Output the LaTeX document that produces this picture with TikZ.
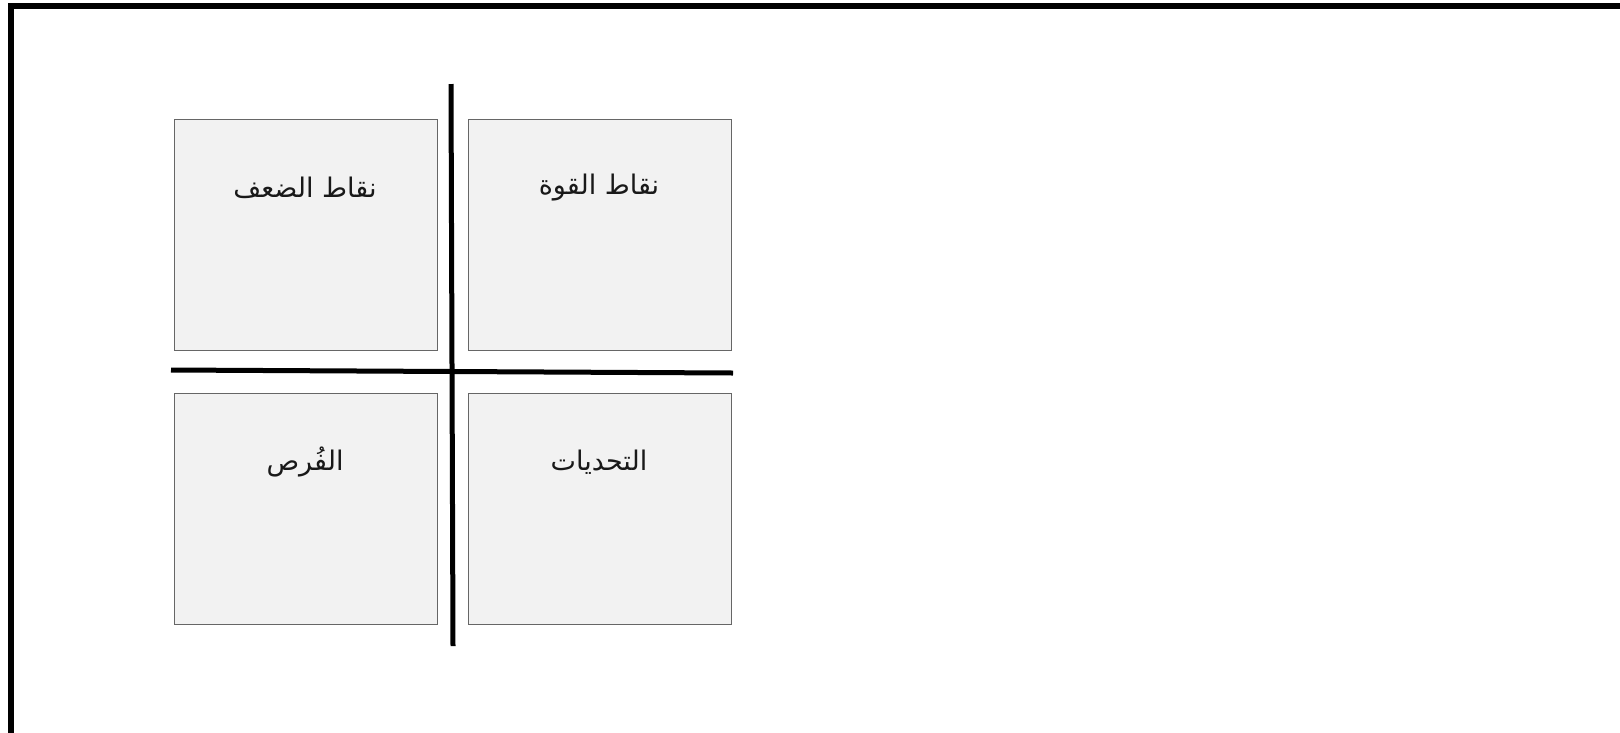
\documentclass[tikz,border=0pt]{standalone}
\usepackage{fontspec}
\TeXXeTstate=1
\newfontfamily\arabicfont[Script=Arabic]{DejaVu Sans}
\begin{document}
\begin{tikzpicture}[x=1pt,y=-1pt,
  quad/.style={draw=black!60,line width=1.3pt,fill=black!5,minimum width=263pt,minimum height=231pt,inner sep=0pt,anchor=north west},
  qlabel/.style={font=\arabicfont\fontsize{27}{32}\selectfont,text=black!90},
  axis/.style={line width=5pt,black}]
\useasboundingbox (0,0) rectangle (1620,732);
\clip (0,0) rectangle (1620,732);
\draw[line width=6pt] (11,6) rectangle (1630,740);
\node[quad] (s) at (468,119) {};
\node[quad] (w) at (174,119) {};
\node[quad] (o) at (174,393) {};
\node[quad] (t) at (468,393) {};
\node[qlabel] (sl) at (599,188) {\beginR نقاط القوة\endR};
\node[qlabel] (wl) at (305,188) {\beginR نقاط الضعف\endR};
\node[qlabel] (ol) at (305,462) {\beginR الفُرص\endR};
\node[qlabel] (tl) at (599,462) {\beginR التحديات\endR};
\coordinate (vtop) at (451,84);
\coordinate (vbot) at (453,646);
\coordinate (hl) at (171,370);
\coordinate (hr) at (733,373);
\draw[axis] (vtop) -- (vbot);
\draw[axis] (hl) -- (hr);
\end{tikzpicture}
\end{document}
